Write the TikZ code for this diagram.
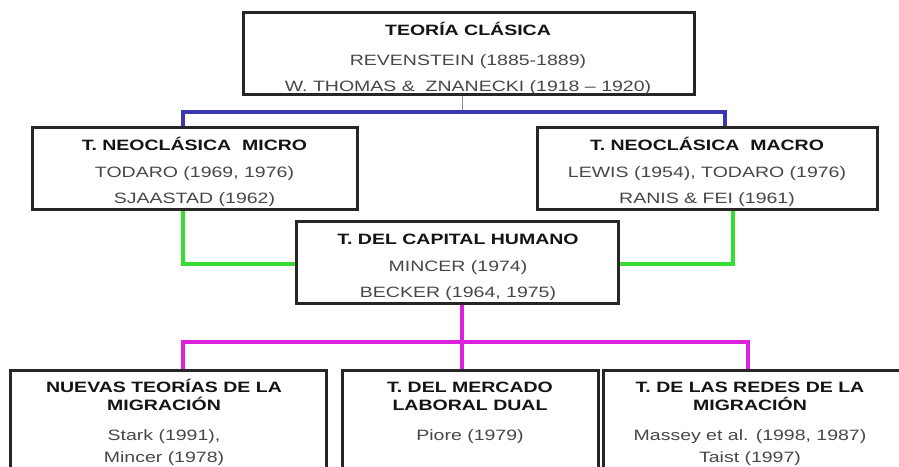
\documentclass[tikz,border=0pt]{standalone}
\usepackage{fontspec}
\setmainfont{Liberation Sans}[FakeStretch=1.3]
\definecolor{cblue}{HTML}{3A36B0}
\definecolor{cgreen}{HTML}{33DD33}
\definecolor{cmag}{HTML}{DD22DD}
\begin{document}
\begin{tikzpicture}[x=1pt,y=-1pt,
  box/.style={draw=black!85,line width=3pt,fill=white,inner sep=0pt},
  tx/.style={inner sep=0pt,anchor=base,font=\fontsize{15}{18}\selectfont,text=black!72},
  ttl/.style={inner sep=0pt,anchor=base,font=\fontsize{15}{18}\selectfont\bfseries,text=black!92},
  bline/.style={cblue,line width=3.2pt},
  gline/.style={cgreen,line width=3.2pt},
  mline/.style={cmag,line width=3.2pt},
  thin/.style={black!45,line width=1pt}]
\useasboundingbox (0,0) rectangle (899,466);
\clip (0,0) rectangle (899,466);
% boxes
\node[box,minimum width=451pt,minimum height=82pt] (top) at (468.5,53) {};
\node[box,minimum width=325pt,minimum height=82pt] (micro) at (194.5,168) {};
\node[box,minimum width=340pt,minimum height=82pt] (macro) at (707,168) {};
\node[box,minimum width=322pt,minimum height=82pt] (cap) at (457,262) {};
\node[box,minimum width=316pt,minimum height=150pt] (nl) at (168,445) {};
\node[box,minimum width=256pt,minimum height=150pt] (nm) at (470,445) {};
\node[box,minimum width=300pt,minimum height=150pt] (nr) at (753,445) {};
% junctions
\coordinate (topj) at (462,112);
\coordinate (bl) at (183,112);
\coordinate (br) at (725,112);
\coordinate (gl) at (183,264);
\coordinate (gr) at (733,264);
\coordinate (mc) at (462,342);
\coordinate (ml) at (183,342);
\coordinate (mr) at (748,342);
% connectors
\draw[thin] (top.south -| topj) -- (topj);
\draw[bline] (micro.north -| bl) -- (bl) -- (br) -- (macro.north -| br);
\draw[gline] (micro.south -| gl) -- (gl) -- (gl -| cap.west);
\draw[gline] (macro.south -| gr) -- (gr) -- (gr -| cap.east);
\draw[mline] (cap.south -| mc) -- (mc) -- (nm.north -| mc);
\draw[mline] (nl.north -| ml) -- (ml) -- (mr) -- (nr.north -| mr);
% texts
\node[ttl] (t1) at (468,35.5) {TEORÍA CLÁSICA};
\node[tx] (t2) at (468,65) {REVENSTEIN (1885-1889)};
\node[tx] (t3) at (468,91.5) {W. THOMAS \&\ \ ZNANECKI (1918 – 1920)};
\node[ttl] (m1) at (194.5,150.5) {T. NEOCLÁSICA\ \ MICRO};
\node[tx] (m2) at (194.5,177.5) {TODARO (1969, 1976)};
\node[tx] (m3) at (194.5,203.5) {SJAASTAD (1962)};
\node[ttl] (a1) at (707,150.5) {T. NEOCLÁSICA\ \ MACRO};
\node[tx] (a2) at (707,177.5) {LEWIS (1954), TODARO (1976)};
\node[tx] (a3) at (707,203.5) {RANIS \& FEI (1961)};
\node[ttl] (c1) at (458,244.5) {T. DEL CAPITAL HUMANO};
\node[tx] (c2) at (458,271.5) {MINCER (1974)};
\node[tx] (c3) at (458,297.5) {BECKER (1964, 1975)};
\node[ttl] (l1) at (164,392.5) {NUEVAS TEORÍAS DE LA};
\node[ttl] (l2) at (164,410.5) {MIGRACIÓN};
\node[tx] (l3) at (164,440.5) {Stark (1991),};
\node[tx] (l4) at (164,462.5) {Mincer (1978)};
\node[ttl] (d1) at (470,392.5) {T. DEL MERCADO};
\node[ttl] (d2) at (470,410.5) {LABORAL DUAL};
\node[tx] (d3) at (470,440.5) {Piore (1979)};
\node[ttl] (r1) at (750,392.5) {T. DE LAS REDES DE LA};
\node[ttl] (r2) at (750,410.5) {MIGRACIÓN};
\node[tx] (r3) at (750,440.5) {Massey et al. (1998, 1987)};
\node[tx] (r4) at (750,462.5) {Taist (1997)};
\end{tikzpicture}
\end{document}
